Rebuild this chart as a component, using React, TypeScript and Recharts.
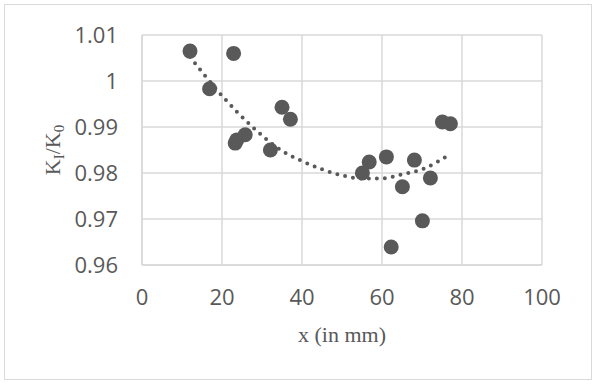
import { ComposedChart, Scatter, Line, XAxis, YAxis, CartesianGrid } from "recharts";

// measured points
const xs = [12, 22.9, 16.9, 35, 37.1, 23.7, 25.8, 23.3, 32.1, 55.1, 56.8, 61.1, 65.1, 68.1, 72.1, 70.1, 62.3, 75.1, 77.1];
const ys = [
  1.0065, 1.006, 0.9983, 0.9943, 0.9917, 0.9872, 0.9883, 0.9865, 0.985, 0.98, 0.9824, 0.9835, 0.977, 0.9828,
  0.9789, 0.9696, 0.9639, 0.9911, 0.9907,
];

// polynomial trendline
const trendX = [12, 20, 27.5, 35, 40, 45, 50, 55, 60, 65, 70, 77];
const trendY = [1.0052, 0.9968, 0.9901, 0.9848, 0.9826, 0.9808, 0.9795, 0.9788, 0.9788, 0.9797, 0.9808, 0.9841];

const xTicks = [0, 20, 40, 60, 80, 100];
const yTicks = [0.96, 0.97, 0.98, 0.99, 1, 1.01];

const points = xs.map((x, i) => ({ x, y: ys[i] }));
const trend = trendX.map((x, i) => ({ x, y: trendY[i] }));

const GRID = "#d9d9d9";
const INK = "#595959";
const tickStyle = { fill: INK, fontSize: 22, fontFamily: "'Open Sans', sans-serif" };

function Dot(props: any) {
  const { cx, cy } = props;
  if (cx == null || cy == null) return null;
  return <circle cx={cx} cy={cy} r={7.5} fill={INK} />;
}

function YTitle(props: any) {
  const vb = props.viewBox || {};
  const cy = vb.y + vb.height / 2;
  const x = 60;
  return (
    <text
      transform={`translate(${x},${cy}) rotate(-90)`}
      textAnchor="middle"
      fill={INK}
      fontSize={22}
      fontFamily="'Liberation Serif', 'Times New Roman', serif"
    >
      K<tspan fontSize={15} dy={4}>I</tspan>
      <tspan dy={-4}>/K</tspan>
      <tspan fontSize={15} dy={4}>0</tspan>
    </text>
  );
}

function XTitle(props: any) {
  const vb = props.viewBox || {};
  return (
    <text
      x={vb.x + vb.width / 2}
      y={342}
      textAnchor="middle"
      fill={INK}
      fontSize={22}
      fontFamily="'Liberation Serif', 'Times New Roman', serif"
    >
      x (in mm)
    </text>
  );
}

export default function App() {
  return (
    <div style={{ position: "absolute", left: 0, top: 0, width: 595, height: 385, background: "#fff" }}>
      <div
        style={{
          position: "absolute",
          left: 4,
          top: 4,
          width: 586,
          height: 374,
          border: `1.5px solid ${GRID}`,
        }}
      />
      <div style={{ position: "absolute", left: 0, top: 0 }}>
        <ComposedChart width={595} height={385} margin={{ top: 35, right: 53, bottom: 80, left: 82 }}>
          <CartesianGrid stroke={GRID} strokeWidth={1.5} />
          <XAxis
            dataKey="x"
            type="number"
            domain={[0, 100]}
            ticks={xTicks}
            tick={tickStyle}
            tickLine={false}
            tickSize={0}
            tickMargin={24}
            axisLine={{ stroke: GRID, strokeWidth: 1.5 }}
            height={40}
            allowDuplicatedCategory={false}
            label={<XTitle />}
          />
          <YAxis
            dataKey="y"
            type="number"
            domain={[0.96, 1.01]}
            ticks={yTicks}
            tick={tickStyle}
            tickLine={false}
            tickSize={0}
            tickMargin={24}
            axisLine={{ stroke: GRID, strokeWidth: 1.5 }}
            width={60}
            tickFormatter={(v: number) => String(+v.toFixed(2))}
            label={<YTitle />}
          />
          <Line
            data={trend}
            dataKey="y"
            type="monotone"
            stroke={INK}
            strokeWidth={4}
            strokeDasharray="0 8"
            strokeLinecap="round"
            dot={false}
            activeDot={false}
            isAnimationActive={false}
          />
          <Scatter data={points} dataKey="y" fill={INK} shape={<Dot />} isAnimationActive={false} />
        </ComposedChart>
      </div>
    </div>
  );
}
